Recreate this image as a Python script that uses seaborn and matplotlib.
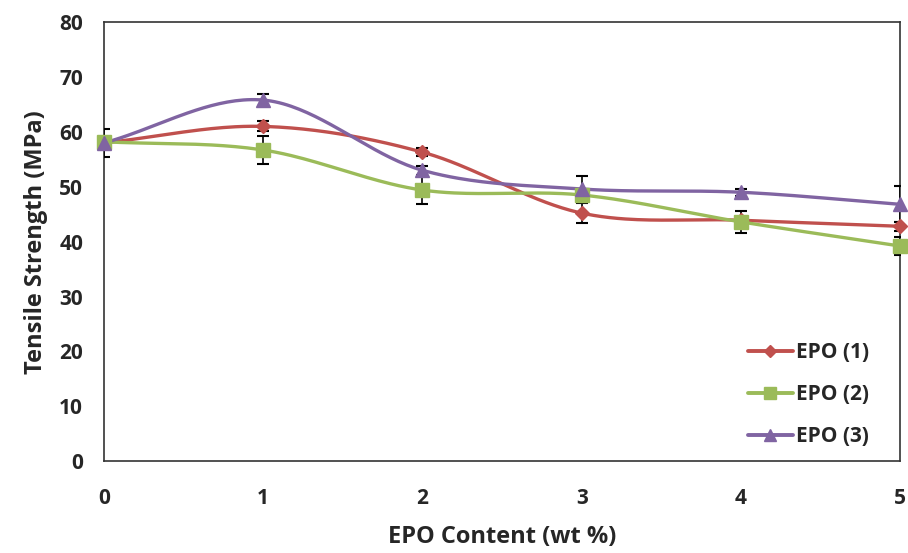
import numpy as np
import pandas as pd
import seaborn as sns
import matplotlib.pyplot as plt
from matplotlib.lines import Line2D

# EPO content (wt %)
epo_content = [0, 1, 2, 3, 4, 5]

# tensile strength (MPa) for each series
epo1 = [58.0, 61.0, 56.3, 45.2, 43.9, 42.8]
epo2 = [58.2, 56.7, 49.4, 48.5, 43.6, 39.2]
epo3 = [58.0, 65.8, 53.0, 49.6, 49.0, 46.8]

# error bars (+/-)
err1 = [2.6, 0.9, 0.7, 1.8, 0.5, 0.8]
err2 = [0.5, 2.5, 2.5, 0.8, 2.0, 1.7]
err3 = [0.5, 1.1, 0.8, 2.3, 0.6, 3.3]

labels = ['EPO (1)', 'EPO (2)', 'EPO (3)']
colors = ['#C0504D', '#9BBB59', '#8064A2']
markers = ['D', 's', '^']
msizes = [7, 10, 10]


def smooth(x, y, n=40):
    # catmull-rom style smoothing like the Excel "smoothed line"
    x = np.asarray(x, float)
    y = np.asarray(y, float)
    m = np.zeros_like(y)
    m[1:-1] = (y[2:] - y[:-2]) / 2
    m[0] = y[1] - y[0]
    m[-1] = y[-1] - y[-2]
    xs, ys = [], []
    for i in range(len(x) - 1):
        t = np.linspace(0, 1, n, endpoint=(i == len(x) - 2))
        h00 = 2 * t**3 - 3 * t**2 + 1
        h10 = t**3 - 2 * t**2 + t
        h01 = -2 * t**3 + 3 * t**2
        h11 = t**3 - t**2
        xs.append(x[i] + t * (x[i + 1] - x[i]))
        ys.append(h00 * y[i] + h10 * m[i] + h01 * y[i + 1] + h11 * m[i + 1])
    return np.concatenate(xs), np.concatenate(ys)


sns.set_style('white')
plt.rcParams['font.family'] = ['Open Sans', 'DejaVu Sans']
plt.rcParams['font.weight'] = 'bold'

fig = plt.figure(figsize=(9.08, 5.53), dpi=100)
ax = fig.add_axes([0.1145, 0.166, 0.877, 0.794])

rows = []
for lab, ys in zip(labels, [epo1, epo2, epo3]):
    sx, sy = smooth(epo_content, ys)
    rows.append(pd.DataFrame({'x': sx, 'y': sy, 'series': lab}))
curves = pd.concat(rows, ignore_index=True)

for lab, ys, er, c, mk, ms in zip(labels, [epo1, epo2, epo3], [err1, err2, err3],
                                  colors, markers, msizes):
    sns.lineplot(data=curves[curves['series'] == lab], x='x', y='y', ax=ax,
                 color=c, linewidth=2.4, sort=False, estimator=None, legend=False)
    ax.errorbar(epo_content, ys, yerr=er, fmt='none', ecolor='black',
                elinewidth=1.2, capsize=4, capthick=1.5, zorder=3)
    ax.plot(epo_content, ys, linestyle='none', marker=mk, markersize=ms,
            color=c, zorder=4, clip_on=False)

ax.set_xlim(0, 5)
ax.set_ylim(0, 80)
ax.set_xticks(range(0, 6))
ax.set_yticks(range(0, 81, 10))
ax.tick_params(axis='both', direction='out', length=6, width=1, color='black',
               labelsize=15, pad=9)
ax.tick_params(axis='x', pad=13)
for lbl in ax.get_xticklabels() + ax.get_yticklabels():
    lbl.set_fontweight('bold')
for sp in ax.spines.values():
    sp.set_color('#333333')
    sp.set_linewidth(1.2)

ax.set_xlabel('EPO Content (wt %)', fontsize=17, fontweight='bold', labelpad=12)
ax.set_ylabel('Tensile Strength (MPa)', fontsize=17, fontweight='bold', labelpad=8)

handles = [Line2D([], [], color=c, marker=mk, markersize=ms * 0.85, linewidth=2.8)
           for c, mk, ms in zip(colors, markers, msizes)]
ax.legend(handles, labels, loc='lower right', frameon=False,
          handlelength=2.2, labelspacing=1.0, handletextpad=0.15,
          bbox_to_anchor=(0.985, -0.01), prop={'weight': 'bold', 'size': 15})

fig.savefig('out.png', dpi=100)
